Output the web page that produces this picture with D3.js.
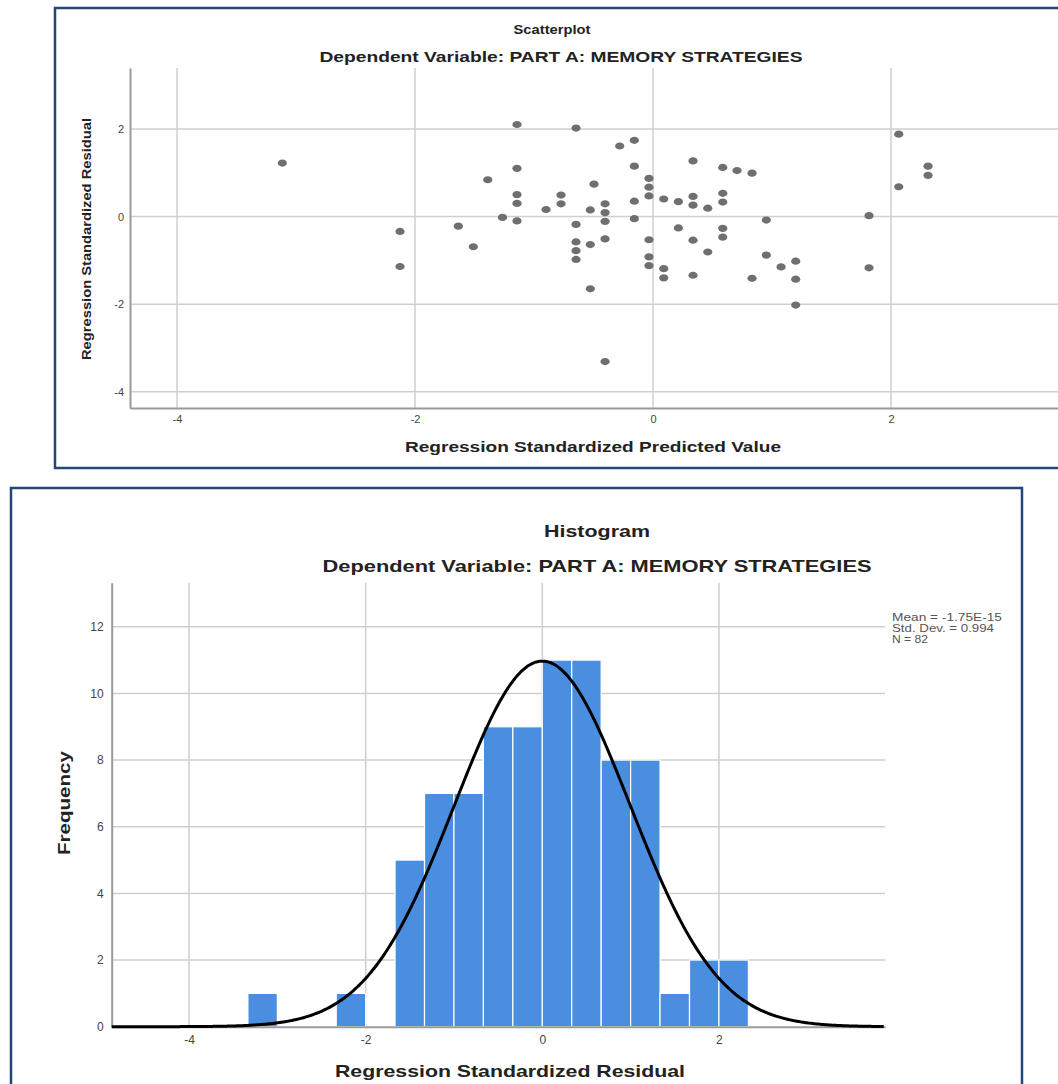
<!DOCTYPE html>
<html><head><meta charset="utf-8">
<script src="https://cdn.jsdelivr.net/npm/d3@7/dist/d3.min.js"></script>
<style>
html,body{margin:0;padding:0;background:#fff;}
svg{display:block;font-family:"Liberation Sans",Arial,sans-serif;}
</style></head>
<body><svg id="c" width="1058" height="1084"></svg>
<script>
// ---------- Scatterplot data (Regression Standardized Predicted Value, Regression Standardized Residual)
const predicted = [-3.115,-2.126,-2.126,-1.636,-1.510,-1.389,-1.265,-1.143,-1.143,-1.143,-1.143,-1.143,
  -0.899,-0.773,-0.773,-0.647,-0.647,-0.647,-0.647,-0.647,-0.527,-0.527,-0.527,-0.496,
  -0.403,-0.403,-0.403,-0.403,-0.403,-0.280,-0.157,-0.157,-0.157,-0.157,
  -0.034,-0.034,-0.034,-0.034,-0.034,-0.034,0.090,0.090,0.090,0.213,0.213,
  0.336,0.336,0.336,0.336,0.336,0.460,0.460,0.586,0.586,0.586,0.586,0.586,
  0.706,0.832,0.832,0.952,0.952,1.076,1.199,1.199,1.199,1.815,1.815,2.065,2.065,2.311,2.311];
const residual = [1.22,-0.34,-1.14,-0.22,-0.69,0.84,-0.02,2.10,1.10,0.50,0.30,-0.10,
  0.16,0.49,0.29,2.02,-0.18,-0.58,-0.78,-0.98,0.15,-0.64,-1.65,0.74,
  0.29,0.09,-0.11,-0.51,-3.31,1.61,1.74,1.15,0.35,-0.05,
  0.87,0.67,0.47,-0.53,-0.92,-1.12,0.40,-1.19,-1.40,0.34,-0.26,
  1.27,0.46,0.26,-0.54,-1.34,0.19,-0.81,1.12,0.53,0.33,-0.27,-0.47,
  1.05,0.99,-1.41,-0.08,-0.88,-1.15,-1.02,-1.43,-2.02,0.02,-1.17,1.88,0.68,1.15,0.94];
const scatterTicks = [-4,-2,0,2];

// ---------- Histogram data (bins of width 1/3)
const binLow = [-3.333,-2.333,-1.667,-1.333,-1.0,-0.667,-0.333,0,0.333,0.667,1.0,1.333,1.667,2.0];
const binCount = [1,1,5,7,7,9,9,11,11,8,8,1,2,2];
const binWidth = 1/3;
const histXTicks = [-4,-2,0,2];
const histYTicks = [0,2,4,6,8,10,12];
const statMean = -1.75e-15, statSD = 0.994, statN = 82;
const legendLines = ["Mean = -1.75E-15","Std. Dev. = 0.994","N = 82"];

const svg = d3.select("#c");
const frameCol = "#24457a", gridCol = "#cfcfcf", axisCol = "#9a9a9a", tickCol = "#444";
const fmt = d => String(d);

// ================= SCATTERPLOT =================
svg.append("rect").attr("x",55).attr("y",8).attr("width",1010).attr("height",460)
  .attr("fill","none").attr("stroke",frameCol).attr("stroke-width",2.5);

const xS = d3.scaleLinear().domain([-4.395,3.403]).range([130,1058]);
const yS = d3.scaleLinear().domain([-4.37,3.39]).range([408,68]);

const sg = svg.append("g");
sg.selectAll("line.gx").data(scatterTicks).join("line")
  .attr("x1",d=>xS(d)).attr("x2",d=>xS(d)).attr("y1",yS.range()[1]).attr("y2",yS.range()[0])
  .attr("stroke",gridCol).attr("stroke-width",1.5);
sg.selectAll("line.gy").data(scatterTicks).join("line")
  .attr("y1",d=>yS(d)).attr("y2",d=>yS(d)).attr("x1",xS.range()[0]).attr("x2",xS.range()[1])
  .attr("stroke",gridCol).attr("stroke-width",1.5);

const sAxL = sg.append("g").attr("transform",`translate(${xS.range()[0]},0)`)
  .call(d3.axisLeft(yS).tickValues(scatterTicks).tickSize(0).tickPadding(6).tickFormat(fmt));
const sAxB = sg.append("g").attr("transform",`translate(0,${yS.range()[0]})`)
  .call(d3.axisBottom(xS).tickValues(scatterTicks).tickSize(0).tickPadding(7).tickFormat(fmt));
[sAxL,sAxB].forEach(a=>{
  a.select(".domain").attr("stroke",axisCol).attr("stroke-width",2);
  a.selectAll("text").attr("fill",tickCol).attr("font-size",11).attr("font-family","Liberation Sans, Arial");
});

sg.selectAll("ellipse").data(predicted.map((p,i)=>[p,residual[i]])).join("ellipse")
  .attr("cx",d=>xS(d[0])).attr("cy",d=>yS(d[1])).attr("rx",4.6).attr("ry",3.6)
  .attr("fill","#6f6f6f");

svg.append("text").attr("x",552).attr("y",34).attr("text-anchor","middle")
  .attr("font-weight","bold").attr("font-size",13).attr("fill","#222")
  .attr("textLength",77).attr("lengthAdjust","spacingAndGlyphs").text("Scatterplot");
svg.append("text").attr("x",561).attr("y",62).attr("text-anchor","middle")
  .attr("font-weight","bold").attr("font-size",14).attr("fill","#222")
  .attr("textLength",483).attr("lengthAdjust","spacingAndGlyphs").text("Dependent Variable: PART A: MEMORY STRATEGIES");
svg.append("text").attr("x",593).attr("y",452).attr("text-anchor","middle")
  .attr("font-weight","bold").attr("font-size",14).attr("fill","#222")
  .attr("textLength",376).attr("lengthAdjust","spacingAndGlyphs").text("Regression Standardized Predicted Value");
svg.append("text").attr("transform","translate(91,239) rotate(-90)").attr("text-anchor","middle")
  .attr("font-weight","bold").attr("font-size",13).attr("fill","#222")
  .attr("textLength",242).attr("lengthAdjust","spacingAndGlyphs").text("Regression Standardized Residual");

// ================= HISTOGRAM =================
svg.append("rect").attr("x",11).attr("y",488).attr("width",1011).attr("height",620)
  .attr("fill","none").attr("stroke",frameCol).attr("stroke-width",2.5);

const xH = d3.scaleLinear().domain([-4.875,3.88]).range([111.7,885]);
const yH = d3.scaleLinear().domain([0,13.32]).range([1026.7,582.8]);

const hg = svg.append("g");
hg.selectAll("line.gx").data(histXTicks).join("line")
  .attr("x1",d=>xH(d)).attr("x2",d=>xH(d)).attr("y1",yH.range()[1]).attr("y2",yH.range()[0])
  .attr("stroke",gridCol).attr("stroke-width",1.5);
hg.selectAll("line.gy").data(histYTicks.filter(d=>d>0)).join("line")
  .attr("y1",d=>yH(d)).attr("y2",d=>yH(d)).attr("x1",xH.range()[0]).attr("x2",xH.range()[1])
  .attr("stroke",gridCol).attr("stroke-width",1.5);

hg.selectAll("rect.bar").data(binLow.map((b,i)=>({lo:b,n:binCount[i]}))).join("rect")
  .attr("x",d=>xH(d.lo)).attr("width",d=>xH(d.lo+binWidth)-xH(d.lo))
  .attr("y",d=>yH(d.n)).attr("height",d=>yH(0)-yH(d.n))
  .attr("fill","#4a8ee0").attr("stroke","#ffffff").attr("stroke-width",1.2);

const hAxL = hg.append("g").attr("transform",`translate(${xH.range()[0]},0)`)
  .call(d3.axisLeft(yH).tickValues(histYTicks).tickSize(0).tickPadding(8).tickFormat(fmt));
const hAxB = hg.append("g").attr("transform",`translate(0,${yH.range()[0]})`)
  .call(d3.axisBottom(xH).tickValues(histXTicks).tickSize(0).tickPadding(9).tickFormat(fmt));
[hAxL,hAxB].forEach(a=>{
  a.select(".domain").attr("stroke",axisCol).attr("stroke-width",2);
  a.selectAll("text").attr("fill",tickCol).attr("font-size",12).attr("font-family","Liberation Sans, Arial");
});

// fitted normal curve from the stated Mean / Std. Dev. / N
const xs = d3.range(xH.domain()[0], xH.domain()[1]+0.001, 0.02);
const dens = x => statN*binWidth/(statSD*Math.sqrt(2*Math.PI))*Math.exp(-0.5*((x-statMean)/statSD)**2);
hg.append("path").datum(xs)
  .attr("d",d3.line().x(d=>xH(d)).y(d=>yH(dens(d))).curve(d3.curveBasis))
  .attr("fill","none").attr("stroke","#000").attr("stroke-width",3);

// legend
hg.selectAll("text.leg").data(legendLines).join("text")
  .attr("x",892).attr("y",(d,i)=>620.5+i*11).attr("font-size",11).attr("fill","#555")
  .attr("textLength",(d,i)=>[110,102,36][i]).attr("lengthAdjust","spacingAndGlyphs").text(d=>d);

svg.append("text").attr("x",597).attr("y",537).attr("text-anchor","middle")
  .attr("font-weight","bold").attr("font-size",17).attr("fill","#222")
  .attr("textLength",106).attr("lengthAdjust","spacingAndGlyphs").text("Histogram");
svg.append("text").attr("x",597).attr("y",572).attr("text-anchor","middle")
  .attr("font-weight","bold").attr("font-size",17).attr("fill","#222")
  .attr("textLength",549).attr("lengthAdjust","spacingAndGlyphs").text("Dependent Variable: PART A: MEMORY STRATEGIES");
svg.append("text").attr("x",510).attr("y",1077).attr("text-anchor","middle")
  .attr("font-weight","bold").attr("font-size",17).attr("fill","#222")
  .attr("textLength",350).attr("lengthAdjust","spacingAndGlyphs").text("Regression Standardized Residual");
svg.append("text").attr("transform","translate(70,803) rotate(-90)").attr("text-anchor","middle")
  .attr("font-weight","bold").attr("font-size",17).attr("fill","#222")
  .attr("textLength",104).attr("lengthAdjust","spacingAndGlyphs").text("Frequency");
</script></body></html>
